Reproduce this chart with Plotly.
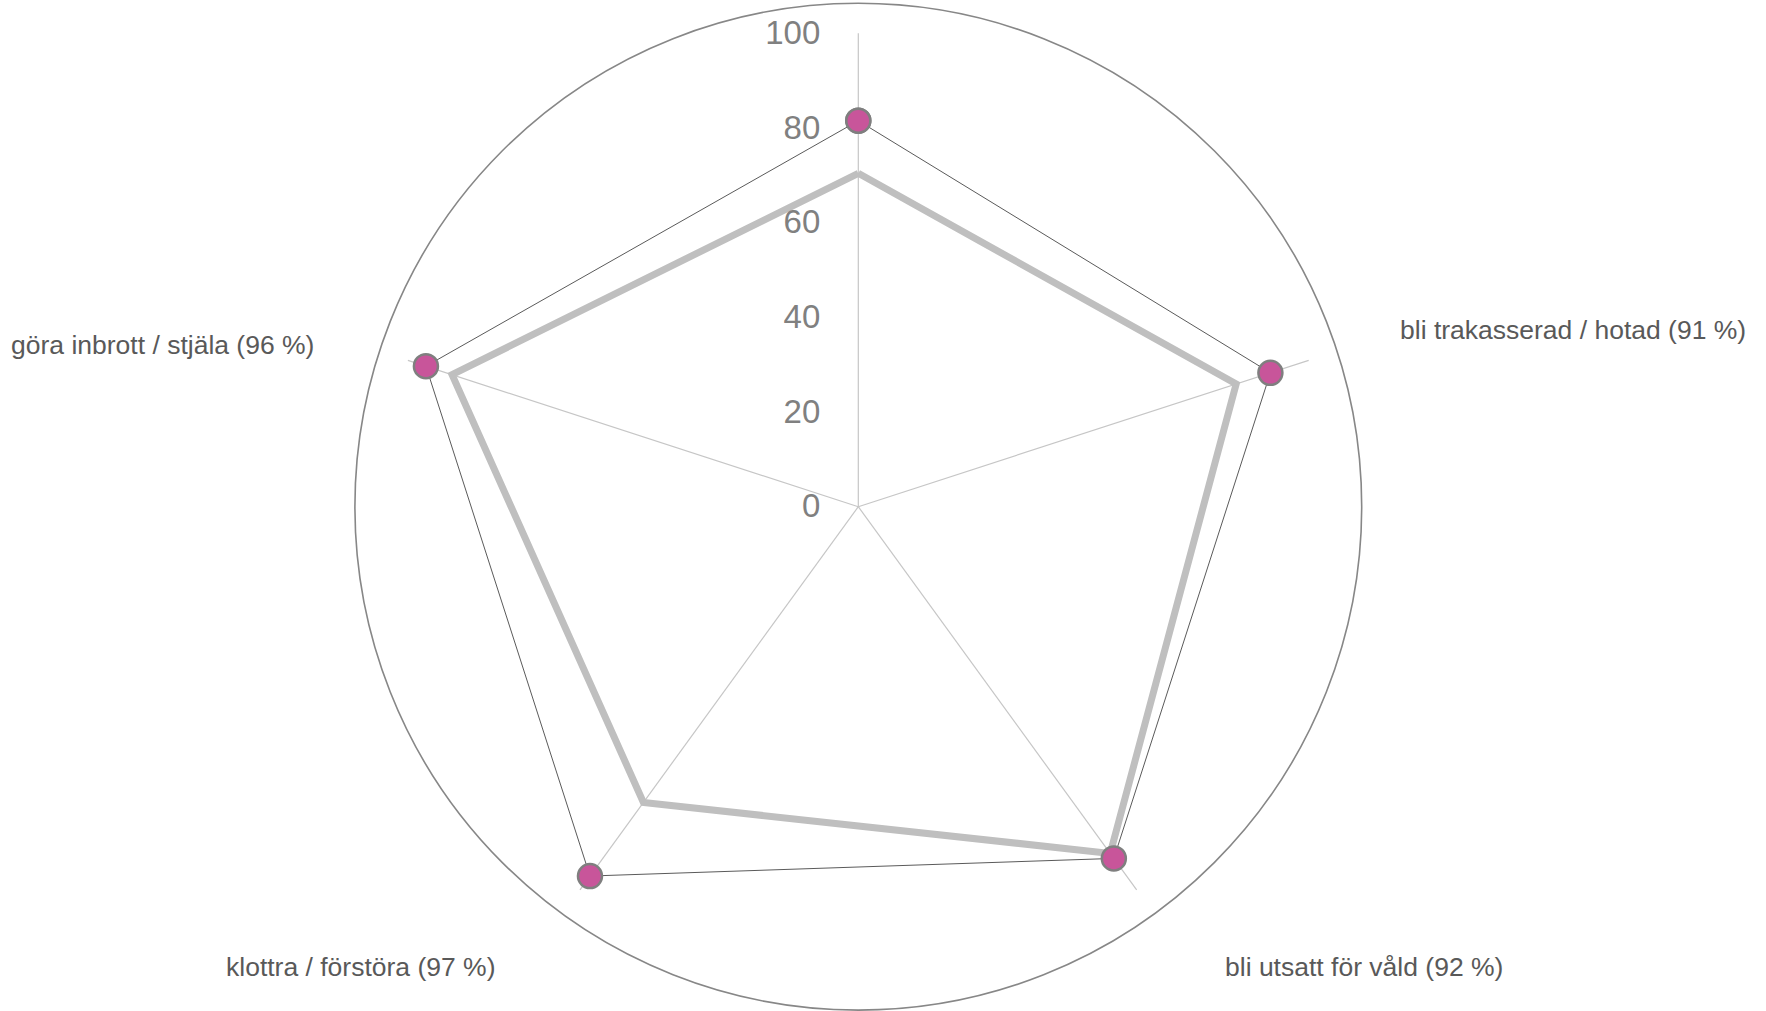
import numpy as np
import plotly.graph_objects as go

# ---- data ----
categories = [
    "",
    "bli trakasserad / hotad (91 %)",
    "bli utsatt för våld (92 %)",
    "klottra / förstöra (97 %)",
    "göra inbrott / stjäla (96 %)",
]
series_pink = [81.5, 91.5, 91.8, 96.4, 96.0]
series_gray = [70.4, 83.9, 90.5, 77.2, 90.2]
radial_ticks = [0, 20, 40, 60, 80, 100]

# ---- layout geometry ----
W, H = 1766, 1011
cx, cy = 858.3, 506.7       # centre in pixels
Rpx = 503.4                 # pixel radius of outer circle
rmax = 106.3                # radial value at outer circle

n = len(categories)
angles = list(np.arange(n) * 360.0 / n)

fig = go.Figure()

# spokes from 0 to 100
sp_r, sp_t = [], []
for a in angles:
    sp_r += [0, 100, None]
    sp_t += [a, a, None]
fig.add_trace(go.Scatterpolar(r=sp_r, theta=sp_t, mode="lines",
                              line=dict(color="#c6c6c6", width=1.2),
                              hoverinfo="skip", showlegend=False))

# gray series
fig.add_trace(go.Scatterpolar(r=series_gray + series_gray[:1], theta=angles + angles[:1],
                              mode="lines", line=dict(color="#bfbfbf", width=7),
                              showlegend=False))

# pink series
fig.add_trace(go.Scatterpolar(r=series_pink + series_pink[:1], theta=angles + angles[:1],
                              mode="lines+markers",
                              line=dict(color="#5a5a5a", width=1),
                              marker=dict(size=24, color="#c8559a",
                                          line=dict(color="#7f7f7f", width=2.5)),
                              showlegend=False))

dom_y0 = max(0.0, (H - cy - Rpx) / H)
dom_y1 = min(1.0, (H - cy + Rpx) / H)
fig.update_layout(
    width=W, height=H,
    margin=dict(l=0, r=0, t=0, b=0),
    paper_bgcolor="white",
    showlegend=False,
    font=dict(family="Liberation Sans, Arial, sans-serif"),
    polar=dict(
        domain=dict(x=[(cx - Rpx) / W, (cx + Rpx) / W], y=[dom_y0, dom_y1]),
        bgcolor="white",
        angularaxis=dict(rotation=90, direction="clockwise", thetaunit="degrees",
                         tickvals=angles, ticktext=categories,
                         showticklabels=False, showgrid=False, ticks="",
                         showline=True, linecolor="#878787", linewidth=1.6),
        radialaxis=dict(range=[0, rmax], angle=90, side="counterclockwise",
                        tickangle=90,
                        showline=False, showgrid=False,
                        tickvals=radial_ticks, ticks="outside", ticklen=26,
                        tickcolor="rgba(0,0,0,0)",
                        tickfont=dict(size=33, color="#808080",
                                      family="Liberation Sans, Arial, sans-serif")),
    ),
)

# category labels (text placed next to the circle), pixel positions
label_pos = {
    1: (1398, 330, "left"),
    2: (1223, 967, "left"),
    3: (498, 967, "right"),
    4: (316, 345, "right"),
}
for i, (px, py, anchor) in label_pos.items():
    fig.add_annotation(text=categories[i], x=px / W, y=1 - py / H,
                       xref="paper", yref="paper", xanchor=anchor, yanchor="middle",
                       showarrow=False,
                       font=dict(size=26.5, color="#595959",
                                 family="Liberation Sans, Arial, sans-serif"))

fig.write_html("out.html", config={"displayModeBar": False},
               post_script="document.body.style.margin='0';document.body.style.overflow='hidden';")
